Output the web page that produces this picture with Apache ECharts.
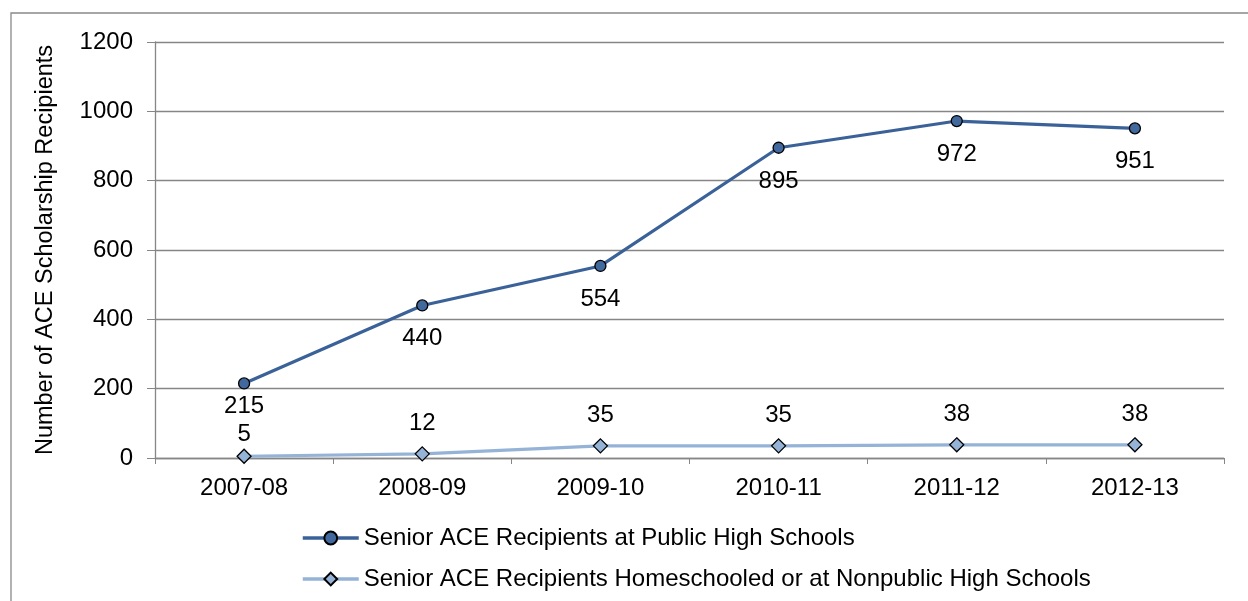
<!DOCTYPE html>
<html><head><meta charset="utf-8">
<script src="https://cdn.jsdelivr.net/npm/echarts@6/dist/echarts.min.js"></script>
<style>html,body{margin:0;padding:0;background:#fff}#c{width:1248px;height:601px}</style>
</head><body><div id="c"></div>
<script>
const categories = ['2007-08','2008-09','2009-10','2010-11','2011-12','2012-13'];
const publicSchools = [215,440,554,895,972,951];
const homeNonpublic = [5,12,35,35,38,38];
const seriesNames = ['Senior ACE Recipients at Public High Schools','Senior ACE Recipients Homeschooled or at Nonpublic High Schools'];
const yAxisTitle = 'Number of ACE Scholarship Recipients';

const font = 'Liberation Sans, Arial, sans-serif';
const FS = 24;
// first points' labels sit closer to their markers (as in the original)
const pubData = publicSchools.map((v,i)=> i===0 ? {value:v,label:{distance:5}} : v);
const homeData = homeNonpublic.map((v,i)=> i===0 ? {value:v,label:{distance:2}} : v);

const chart = echarts.init(document.getElementById('c'), null, {renderer:'canvas'});
chart.setOption({
  animation:false,
  backgroundColor:'#fff',
  textStyle:{fontFamily:font},
  graphic:[{type:'rect',shape:{x:11,y:13,width:1300,height:700},style:{fill:'none',stroke:'#898989',lineWidth:1.3},silent:true,z:-1}],
  grid:{left:155,right:24,top:42,bottom:143,containLabel:false},
  legend:{orient:'vertical',left:296,top:521,itemGap:17,itemWidth:56,itemHeight:16,
    lineStyle:{width:3.5},
    textStyle:{fontSize:FS,color:'#000',fontFamily:font},
    data:seriesNames},
  xAxis:{type:'category',data:categories,boundaryGap:true,
    axisLine:{lineStyle:{color:'#868686',width:1.3}},
    axisTick:{show:true,alignWithLabel:false,length:6,lineStyle:{color:'#868686'}},
    axisLabel:{fontSize:FS,color:'#000',margin:18,fontFamily:font}},
  yAxis:{type:'value',min:0,max:1200,interval:200,
    name:yAxisTitle,nameLocation:'middle',nameRotate:90,nameGap:97,
    nameTextStyle:{fontSize:23.5,color:'#000',fontFamily:font},
    axisLine:{show:true,lineStyle:{color:'#868686',width:1.3}},
    axisTick:{show:true,length:8,lineStyle:{color:'#868686'}},
    splitLine:{lineStyle:{color:'#868686',width:1.3}},
    axisLabel:{fontSize:FS,color:'#000',margin:22,fontFamily:font,formatter:v=>String(v)}},
  series:[
    {name:seriesNames[0],type:'line',data:pubData,symbol:'circle',symbolSize:11,
      lineStyle:{color:'#3B6298',width:3.2},
      itemStyle:{color:'#41699E',borderColor:'#000',borderWidth:1.3},
      label:{show:true,position:'bottom',distance:15,fontSize:FS,color:'#000',fontFamily:font}},
    {name:seriesNames[1],type:'line',data:homeData,symbol:'diamond',symbolSize:14,
      lineStyle:{color:'#95B3D7',width:3.2},
      itemStyle:{color:'#95B3D7',borderColor:'#000',borderWidth:1.3},
      label:{show:true,position:'top',distance:11,fontSize:FS,color:'#000',fontFamily:font}}
  ]
});
</script></body></html>
